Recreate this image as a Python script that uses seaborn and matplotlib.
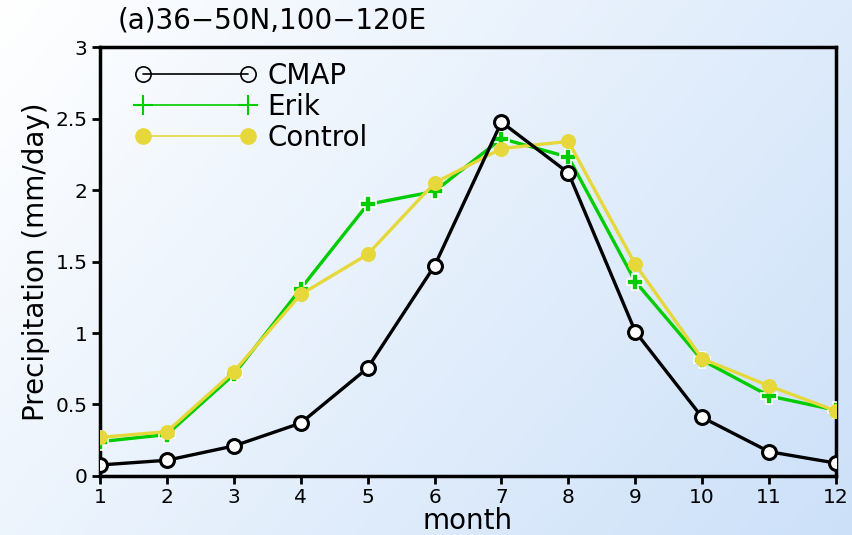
import numpy as np
import pandas as pd
import seaborn as sns
import matplotlib.pyplot as plt
from matplotlib.lines import Line2D

months = list(range(1, 13))
cmap_vals = [0.077, 0.11, 0.21, 0.37, 0.755, 1.47, 2.475, 2.12, 1.01, 0.41, 0.17, 0.09]
erik_vals = [0.24, 0.29, 0.71, 1.31, 1.90, 1.99, 2.36, 2.23, 1.36, 0.81, 0.56, 0.46]
control_vals = [0.27, 0.31, 0.73, 1.27, 1.55, 2.05, 2.29, 2.34, 1.48, 0.82, 0.63, 0.455]

green = '#00cc00'
yellow = '#e6d83a'

sns.set_style('ticks')
plt.rcParams['font.family'] = ['DejaVu Sans']
plt.rcParams['text.color'] = 'black'
plt.rcParams['axes.labelcolor'] = 'black'

fig = plt.figure(figsize=(8.52, 5.35), dpi=100)

# gradient background (white top-left -> light blue bottom-right)
bg = fig.add_axes([0, 0, 1, 1], zorder=-1)
gx, gy = np.meshgrid(np.linspace(0, 1, 200), np.linspace(0, 1, 200))
t = 0.65 * gx + 0.35 * gy
c0 = np.array([1.0, 1.0, 1.0])
c1 = np.array([0.80, 0.88, 0.975])
img = c0[None, None, :] * (1 - t[..., None]) + c1[None, None, :] * t[..., None]
bg.imshow(img, aspect='auto', extent=[0, 1, 0, 1])
bg.axis('off')

ax = fig.add_axes([0.1174, 0.1103, 0.8638, 0.8018])
ax.set_facecolor('none')

df = pd.DataFrame({'month': months, 'CMAP': cmap_vals, 'Erik': erik_vals, 'Control': control_vals})

sns.lineplot(data=df, x='month', y='Erik', ax=ax, color=green, lw=2.4,
             marker='P', markersize=11, markerfacecolor=green, markeredgecolor='white',
             markeredgewidth=1.2, zorder=3)
sns.lineplot(data=df, x='month', y='Control', ax=ax, color=yellow, lw=2.4,
             marker='o', markersize=10, markerfacecolor=yellow, markeredgecolor=yellow, zorder=4)
sns.lineplot(data=df, x='month', y='CMAP', ax=ax, color='black', lw=2.4,
             marker='o', markersize=10, markerfacecolor='white', markeredgecolor='black',
             markeredgewidth=2.2, zorder=5)

ax.set_xlim(1, 12)
ax.set_ylim(0, 3)
ax.set_xticks(months)
ax.set_yticks([0, 0.5, 1, 1.5, 2, 2.5, 3])
ax.set_yticklabels(['0', '0.5', '1', '1.5', '2', '2.5', '3'])
for s in ax.spines.values():
    s.set_linewidth(2.5)
    s.set_color('black')
ax.tick_params(axis='both', direction='out', length=6, width=2, labelsize=14.5,
               colors='black', pad=3)
ax.tick_params(top=False, right=False)

ax.set_xlabel('month', fontsize=20, labelpad=0)
ax.set_ylabel('Precipitation (mm/day)', fontsize=20, labelpad=4)
fig.text(0.138, 0.962, '(a)36\u221250N,100\u2212120E', fontsize=20, ha='left', va='center')

handles = [
    Line2D([], [], color='black', lw=1.2, marker='o', markersize=11,
           markerfacecolor='none', markeredgecolor='black', markeredgewidth=1.2),
    Line2D([], [], color=green, lw=1.2, marker='+', markersize=14, markeredgewidth=1.5),
    Line2D([], [], color=yellow, lw=1.2, marker='o', markersize=11,
           markerfacecolor=yellow, markeredgecolor=yellow),
]
ax.legend(handles, ['CMAP', 'Erik', 'Control'], loc='upper left', numpoints=2,
          handlelength=4.4, fontsize=20, frameon=False, borderaxespad=0.3,
          labelspacing=0.1, handletextpad=0.4, bbox_to_anchor=(0.02, 1.01))

fig.savefig('out.png', dpi=100)
